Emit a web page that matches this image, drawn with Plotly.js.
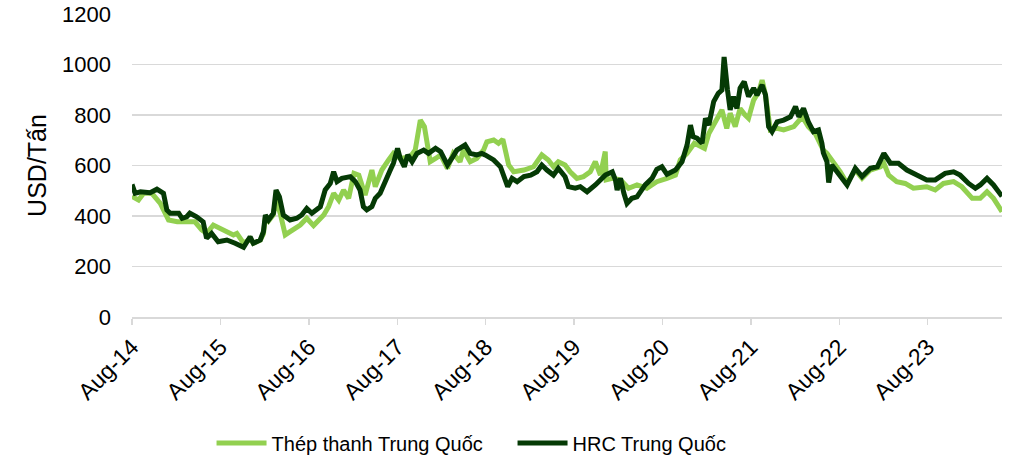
<!DOCTYPE html>
<html>
<head>
<meta charset="utf-8">
<script src="https://cdn.plot.ly/plotly-3.0.1.min.js"></script>
<style>html,body{margin:0;padding:0;background:#fff;}#chart{width:1017px;height:459px;}</style>
</head>
<body>
<div id="chart"></div>
<script>
const hrcDates = ['2014-08-01','2014-08-14','2014-09-05','2014-10-15','2014-11-12','2014-12-09','2014-12-23','2015-01-06','2015-02-10','2015-02-24',
'2015-03-15','2015-03-28','2015-04-25','2015-05-22','2015-06-05','2015-06-26','2015-07-23','2015-08-28','2015-10-01','2015-11-05',
'2015-12-02','2015-12-15','2016-01-13','2016-01-26','2016-02-03','2016-02-16','2016-03-07','2016-03-18','2016-04-01','2016-04-17',
'2016-05-15','2016-06-12','2016-07-02','2016-07-23','2016-08-13','2016-09-03','2016-09-17','2016-10-07','2016-10-28','2016-11-11',
'2016-11-25','2016-12-15','2017-01-19','2017-02-09','2017-02-28','2017-03-14','2017-03-28','2017-04-18','2017-05-02','2017-05-22',
'2017-06-12','2017-07-03','2017-07-16','2017-08-02','2017-08-13','2017-08-30','2017-09-13','2017-10-01','2017-10-21','2017-11-18',
'2017-12-08','2018-01-06','2018-01-27','2018-02-24','2018-03-14','2018-04-04','2018-05-08','2018-05-29','2018-06-25','2018-07-16',
'2018-07-30','2018-09-03','2018-10-01','2018-10-21','2018-10-31','2018-11-18','2018-12-09','2019-01-06','2019-02-03','2019-03-01',
'2019-03-21','2019-04-11','2019-05-08','2019-05-28','2019-06-25','2019-07-09','2019-08-06','2019-08-27','2019-09-24','2019-10-28',
'2019-12-08','2020-01-06','2020-01-19','2020-01-26','2020-02-09','2020-02-23','2020-03-07','2020-03-27','2020-04-17','2020-05-21',
'2020-06-18','2020-07-08','2020-07-29','2020-08-19','2020-09-23','2020-10-20','2020-11-10','2020-11-24','2020-12-05','2020-12-21',
'2021-01-11','2021-01-25','2021-02-08','2021-02-28','2021-03-19','2021-04-03','2021-04-12','2021-04-26','2021-05-07','2021-05-21',
'2021-06-04','2021-06-17','2021-07-04','2021-07-22','2021-08-12','2021-08-26','2021-09-16','2021-09-30','2021-10-13','2021-10-27',
'2021-11-17','2021-12-14','2022-01-11','2022-02-01','2022-02-15','2022-03-06','2022-03-26','2022-04-16','2022-05-07','2022-05-21',
'2022-05-27','2022-06-11','2022-06-18','2022-07-01','2022-07-29','2022-09-02','2022-10-06','2022-11-03','2022-12-07','2023-01-05',
'2023-02-01','2023-02-28','2023-04-02','2023-05-07','2023-06-17','2023-07-28','2023-09-01','2023-10-12','2023-11-16','2023-12-13',
'2024-01-17','2024-02-14','2024-03-05','2024-04-02','2024-04-29','2024-06-03'];
const hrcValues = [525,490,496,492,506,490,424,411,411,391,
397,411,397,377,312,331,298,305,292,276,
318,292,305,338,404,384,411,503,476,404,
384,391,404,430,411,430,437,503,529,575,
536,549,556,536,503,437,424,437,470,490,
543,582,609,668,628,595,642,615,648,661,
648,668,655,602,628,661,681,648,642,648,
642,622,595,536,516,549,536,556,562,575,
602,582,562,589,556,516,510,516,496,523,
562,575,543,503,549,490,450,470,476,523,
549,585,595,565,582,615,681,760,714,708,
688,787,760,853,886,899,1030,899,820,873,
826,906,932,873,906,879,919,879,754,734,
773,780,793,833,793,826,773,734,741,688,
650,615,532,602,569,523,589,556,589,595,
648,609,609,582,562,543,543,569,575,562,
529,510,523,549,523,478];

const rebarDates = ['2014-08-01','2014-08-28','2014-09-18','2014-10-22','2014-11-26','2014-12-09','2014-12-30','2015-02-04','2015-03-15','2015-04-18',
'2015-05-16','2015-06-05','2015-07-03','2015-07-31','2015-09-24','2015-10-08','2015-11-05','2015-12-02','2015-12-15','2016-01-13',
'2016-01-26','2016-02-03','2016-02-16','2016-03-07','2016-03-18','2016-04-04','2016-04-25','2016-05-15','2016-06-26','2016-07-23',
'2016-08-20','2016-10-01','2016-10-21','2016-11-11','2016-12-02','2016-12-22','2017-01-12','2017-02-03','2017-02-23','2017-03-21',
'2017-04-18','2017-05-02','2017-05-29','2017-06-26','2017-07-16','2017-08-13','2017-09-24','2017-10-14','2017-11-04','2017-11-21',
'2017-12-02','2017-12-15','2018-01-06','2018-01-27','2018-02-24','2018-03-20','2018-04-17','2018-05-01','2018-05-29','2018-06-25',
'2018-07-23','2018-08-06','2018-09-03','2018-09-23','2018-10-11','2018-11-04','2018-11-25','2019-01-06','2019-02-15','2019-03-21',
'2019-04-17','2019-05-08','2019-05-28','2019-06-25','2019-07-16','2019-08-13','2019-09-09','2019-10-07','2019-10-28','2019-11-18',
'2019-12-08','2019-12-12','2020-01-06','2020-02-09','2020-03-13','2020-04-17','2020-05-28','2020-07-08','2020-08-19','2020-09-23',
'2020-10-13','2020-11-10','2020-12-10','2021-01-21','2021-02-08','2021-03-12','2021-04-03','2021-04-23','2021-05-07','2021-05-28',
'2021-06-17','2021-07-08','2021-07-22','2021-08-12','2021-09-02','2021-09-16','2021-09-30','2021-10-20','2021-11-17','2021-12-14',
'2022-01-25','2022-03-01','2022-03-26','2022-04-23','2022-05-27','2022-06-11','2022-07-01','2022-07-22','2022-08-05','2022-09-02',
'2022-10-06','2022-11-03','2022-12-07','2023-01-18','2023-02-01','2023-02-21','2023-03-26','2023-04-30','2023-06-03','2023-07-28',
'2023-09-01','2023-10-05','2023-11-16','2023-12-20','2024-02-01','2024-03-05','2024-04-02','2024-04-29','2024-06-03'];
const rebarValues = [478,463,490,490,450,424,384,377,377,377,
345,331,364,351,325,331,292,310,292,305,
330,395,380,405,470,411,325,338,364,391,
362,404,437,490,463,503,470,569,562,483,
582,516,582,622,648,628,635,661,780,754,
674,615,628,642,589,648,615,661,615,628,
661,694,701,688,704,602,575,582,595,642,
622,595,615,602,575,549,556,575,615,562,
655,543,549,543,510,523,510,536,549,562,
622,648,688,668,727,787,820,747,807,754,
826,800,787,859,892,938,879,741,747,741,
754,793,754,727,661,648,622,589,575,529,
582,549,582,595,609,562,536,529,510,516,
503,529,536,516,470,470,496,470,417];

const seriesNames = ['Thép thanh Trung Quốc', 'HRC Trung Quốc'];
const tickVals = ['2014-08-01','2015-08-01','2016-08-01','2017-08-01','2018-08-01','2019-08-01','2020-08-01','2021-08-01','2022-08-01','2023-08-01'];
const tickText = ['Aug-14','Aug-15','Aug-16','Aug-17','Aug-18','Aug-19','Aug-20','Aug-21','Aug-22','Aug-23'];
const yTicks = [0,200,400,600,800,1000,1200];

const font = 'Liberation Sans, Arial, sans-serif';
const traces = [
  {x: rebarDates, y: rebarValues, name: seriesNames[0], type: 'scatter', mode: 'lines',
   line: {color: '#92D050', width: 5, shape: 'linear'}},
  {x: hrcDates, y: hrcValues, name: seriesNames[1], type: 'scatter', mode: 'lines',
   line: {color: '#053A05', width: 5, shape: 'linear'}}
];
const layout = {
  width: 1017, height: 459,
  margin: {l: 132, r: 15, t: 14, b: 142},
  paper_bgcolor: '#fff', plot_bgcolor: '#fff',
  font: {family: font, size: 20, color: '#000'},
  showlegend: true,
  legend: {orientation: 'h', xref: 'container', x: 0.208, xanchor: 'left',
           yref: 'container', y: 0.035, yanchor: 'middle', itemwidth: 50,
           font: {family: font, size: 20, color: '#000'}, entrywidth: 236, entrywidthmode: 'pixels'},
  xaxis: {type: 'date', range: ['2014-08-01','2024-06-03'], tickmode: 'array', tickvals: tickVals, ticktext: tickText,
          tickangle: -45, showgrid: false, showline: true, linecolor: '#d9d9d9', linewidth: 1.5,
          ticks: 'outside', ticklen: 6, tickcolor: '#d9d9d9', tickwidth: 1.5, automargin: false,
          tickfont: {family: font, size: 23, color: '#000'}, zeroline: false},
  yaxis: {range: [0, 1200], tickmode: 'array', tickvals: yTicks, showgrid: true, gridcolor: '#d9d9d9', gridwidth: 1.5,
          zeroline: false, showline: false, ticks: '', ticklabelstandoff: 20, automargin: false,
          tickfont: {family: font, size: 22, color: '#000'},
          title: {text: 'USD/Tấn', font: {family: font, size: 25, color: '#000'}, standoff: 8}}
};
Plotly.newPlot('chart', traces, layout, {displayModeBar: false, staticPlot: true});
</script>
</body>
</html>
